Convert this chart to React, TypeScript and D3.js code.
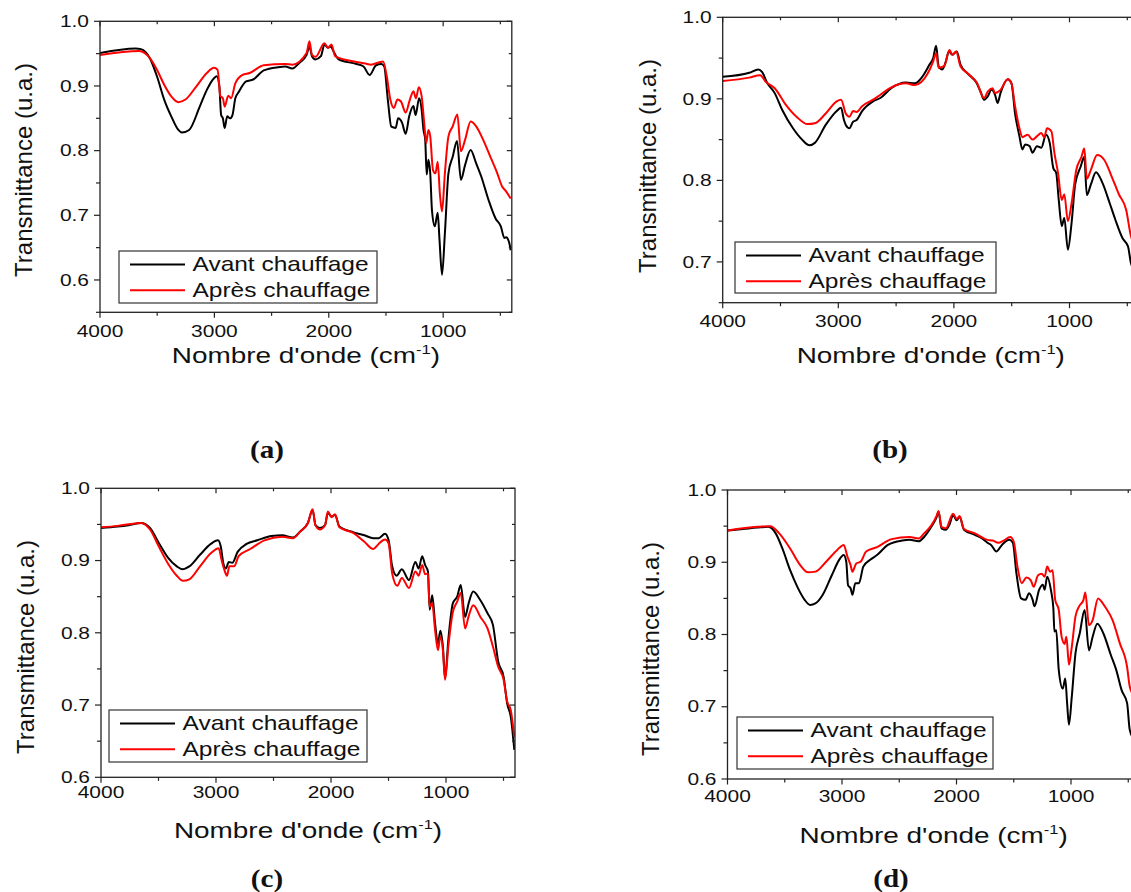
import React from "react";
import * as d3 from "d3";

type Pt = [number, number];

// ---------- DATA ----------
const wavenumberMajorTicks = [4000, 3000, 2000, 1000];
const wavenumberMinorTicks = [3500, 2500, 1500, 500];
const seriesNames = ["Avant chauffage", "Après chauffage"];
const seriesColors = ["#000000", "#ff0000"];
const panelLabels = ["(a)", "(b)", "(c)", "(d)"];
const yMajorA = [0.6, 0.7, 0.8, 0.9, 1.0];
const yMajorB = [0.7, 0.8, 0.9, 1.0];
const yMajorC = [0.6, 0.7, 0.8, 0.9, 1.0];
const yMajorD = [0.6, 0.7, 0.8, 0.9, 1.0];
const yDomainA: Pt = [0.55, 1.0];
const yDomainB: Pt = [0.65, 1.0];
const yDomainC: Pt = [0.6, 1.0];
const yDomainD: Pt = [0.6, 1.0];
const xDomain: Pt = [4000, 400];

const avantA: Pt[] = [
  [4000, 0.951], [3689, 0.958], [3642, 0.957], [3564, 0.943], [3502, 0.915], [3439, 0.879], [3377, 0.853],
  [3315, 0.832], [3284, 0.828], [3221, 0.832], [3128, 0.868], [3066, 0.894], [3003, 0.912], [2979, 0.915],
  [2957, 0.9], [2941, 0.855], [2926, 0.85], [2910, 0.835], [2888, 0.853], [2863, 0.85], [2842, 0.855],
  [2817, 0.881], [2786, 0.891], [2723, 0.907], [2661, 0.91], [2568, 0.924], [2443, 0.929], [2381, 0.93],
  [2319, 0.927], [2256, 0.936], [2194, 0.948], [2169, 0.961], [2147, 0.946], [2116, 0.941], [2069, 0.946],
  [2038, 0.964], [2007, 0.959], [1982, 0.961], [1960, 0.954], [1914, 0.941], [1758, 0.934], [1696, 0.93],
  [1643, 0.917], [1587, 0.932], [1540, 0.934], [1515, 0.93], [1484, 0.879], [1453, 0.837], [1415, 0.835],
  [1394, 0.85], [1359, 0.843], [1328, 0.826], [1297, 0.853], [1260, 0.869], [1241, 0.855], [1210, 0.881],
  [1188, 0.863], [1172, 0.832], [1157, 0.817], [1144, 0.763], [1129, 0.786], [1113, 0.765], [1098, 0.708],
  [1073, 0.683], [1048, 0.704], [1032, 0.662], [1010, 0.608], [985, 0.672], [954, 0.765], [916, 0.791],
  [879, 0.815], [845, 0.755], [808, 0.778], [760, 0.801], [713, 0.781], [667, 0.76], [604, 0.724],
  [542, 0.695], [496, 0.683], [465, 0.665], [450, 0.666], [425, 0.659], [410, 0.646],
];
const apresA: Pt[] = [
  [4000, 0.948], [3657, 0.954], [3564, 0.943], [3502, 0.925], [3439, 0.902], [3377, 0.884], [3315, 0.875],
  [3253, 0.879], [3159, 0.899], [3066, 0.92], [3003, 0.928], [2972, 0.925], [2947, 0.884], [2926, 0.881],
  [2910, 0.868], [2879, 0.885], [2854, 0.881], [2817, 0.904], [2754, 0.917], [2692, 0.92], [2568, 0.932],
  [2381, 0.934], [2319, 0.933], [2194, 0.951], [2169, 0.969], [2147, 0.948], [2116, 0.945], [2038, 0.966],
  [2007, 0.959], [1976, 0.964], [1945, 0.946], [1758, 0.937], [1665, 0.934], [1634, 0.933], [1525, 0.938],
  [1493, 0.915], [1462, 0.879], [1431, 0.866], [1400, 0.879], [1369, 0.876], [1328, 0.859], [1291, 0.879],
  [1260, 0.892], [1238, 0.881], [1213, 0.898], [1188, 0.884], [1166, 0.843], [1148, 0.812], [1129, 0.832],
  [1113, 0.822], [1089, 0.77], [1067, 0.765], [1048, 0.783], [1029, 0.734], [1010, 0.706], [985, 0.765],
  [954, 0.822], [916, 0.838], [876, 0.856], [845, 0.799], [808, 0.817], [760, 0.845], [713, 0.838],
  [651, 0.817], [589, 0.791], [527, 0.765], [486, 0.745], [450, 0.737], [410, 0.726],
];

const avantB: Pt[] = [
  [4000, 0.927], [3770, 0.932], [3691, 0.936], [3660, 0.933], [3613, 0.919], [3550, 0.907], [3487, 0.887],
  [3392, 0.864], [3313, 0.85], [3250, 0.843], [3203, 0.846], [3109, 0.868], [3014, 0.885], [2976, 0.889],
  [2951, 0.874], [2935, 0.868], [2904, 0.864], [2872, 0.872], [2841, 0.874], [2794, 0.885], [2699, 0.897],
  [2636, 0.901], [2542, 0.913], [2416, 0.92], [2337, 0.919], [2274, 0.927], [2211, 0.942], [2179, 0.95],
  [2154, 0.965], [2132, 0.94], [2101, 0.936], [2069, 0.946], [2044, 0.958], [2013, 0.954], [1975, 0.958],
  [1943, 0.942], [1880, 0.931], [1802, 0.919], [1770, 0.909], [1739, 0.899], [1707, 0.903], [1676, 0.911],
  [1644, 0.905], [1622, 0.895], [1597, 0.907], [1534, 0.924], [1502, 0.919], [1471, 0.882], [1433, 0.854],
  [1408, 0.838], [1383, 0.844], [1345, 0.842], [1320, 0.834], [1282, 0.842], [1244, 0.84], [1203, 0.856],
  [1171, 0.846], [1140, 0.815], [1115, 0.809], [1093, 0.776], [1067, 0.744], [1045, 0.754], [1014, 0.715],
  [982, 0.748], [951, 0.795], [903, 0.817], [872, 0.829], [850, 0.782], [815, 0.795], [771, 0.81],
  [715, 0.797], [652, 0.772], [604, 0.752], [541, 0.729], [494, 0.719], [469, 0.699], [440, 0.69],
];
const apresB: Pt[] = [
  [4000, 0.922], [3770, 0.926], [3676, 0.929], [3628, 0.921], [3550, 0.913], [3455, 0.893], [3361, 0.878],
  [3266, 0.869], [3203, 0.87], [3109, 0.882], [3014, 0.897], [2976, 0.899], [2935, 0.882], [2904, 0.878],
  [2872, 0.885], [2841, 0.884], [2794, 0.891], [2699, 0.899], [2636, 0.905], [2542, 0.914], [2416, 0.919],
  [2337, 0.917], [2227, 0.931], [2179, 0.946], [2154, 0.956], [2132, 0.938], [2085, 0.94], [2038, 0.96],
  [2013, 0.954], [1981, 0.958], [1943, 0.94], [1880, 0.931], [1802, 0.92], [1739, 0.901], [1707, 0.909],
  [1666, 0.913], [1644, 0.907], [1597, 0.911], [1534, 0.924], [1502, 0.919], [1471, 0.891], [1433, 0.864],
  [1408, 0.853], [1361, 0.856], [1320, 0.85], [1282, 0.854], [1244, 0.858], [1219, 0.853], [1194, 0.864],
  [1156, 0.86], [1131, 0.834], [1099, 0.809], [1067, 0.776], [1045, 0.783], [1014, 0.75], [982, 0.772],
  [941, 0.813], [896, 0.829], [872, 0.839], [850, 0.802], [815, 0.813], [761, 0.831], [699, 0.825],
  [636, 0.805], [573, 0.783], [510, 0.764], [469, 0.732], [440, 0.72],
];

const avantC: Pt[] = [
  [4000, 0.945], [3854, 0.947], [3760, 0.949], [3651, 0.952], [3574, 0.945], [3496, 0.924], [3418, 0.904],
  [3341, 0.892], [3294, 0.888], [3232, 0.892], [3139, 0.908], [3045, 0.923], [2983, 0.928], [2958, 0.919],
  [2936, 0.896], [2914, 0.889], [2889, 0.898], [2858, 0.897], [2812, 0.912], [2734, 0.923], [2641, 0.928],
  [2517, 0.934], [2424, 0.935], [2331, 0.932], [2269, 0.94], [2201, 0.952], [2160, 0.97], [2135, 0.949],
  [2098, 0.945], [2052, 0.949], [2027, 0.966], [1996, 0.961], [1965, 0.963], [1927, 0.947], [1803, 0.939],
  [1710, 0.935], [1632, 0.931], [1586, 0.931], [1530, 0.937], [1499, 0.928], [1468, 0.892], [1430, 0.879],
  [1384, 0.888], [1322, 0.873], [1266, 0.898], [1238, 0.889], [1207, 0.906], [1182, 0.894], [1157, 0.885],
  [1142, 0.832], [1120, 0.852], [1095, 0.813], [1070, 0.785], [1049, 0.803], [1027, 0.781], [1008, 0.737],
  [980, 0.79], [940, 0.841], [903, 0.85], [872, 0.866], [834, 0.822], [803, 0.841], [763, 0.857],
  [701, 0.845], [639, 0.827], [592, 0.811], [546, 0.76], [499, 0.739], [468, 0.702], [437, 0.684], [406, 0.638],
];
const apresC: Pt[] = [
  [4000, 0.946], [3854, 0.948], [3651, 0.952], [3574, 0.943], [3496, 0.919], [3418, 0.896], [3341, 0.879],
  [3288, 0.872], [3232, 0.874], [3139, 0.892], [3045, 0.91], [2977, 0.917], [2952, 0.901], [2927, 0.887],
  [2905, 0.879], [2883, 0.892], [2843, 0.892], [2803, 0.906], [2703, 0.916], [2579, 0.928], [2424, 0.933],
  [2331, 0.931], [2269, 0.94], [2201, 0.952], [2160, 0.971], [2135, 0.949], [2098, 0.943], [2052, 0.949],
  [2027, 0.968], [1996, 0.96], [1965, 0.964], [1927, 0.946], [1803, 0.938], [1710, 0.926], [1632, 0.916],
  [1586, 0.923], [1530, 0.929], [1499, 0.924], [1468, 0.882], [1424, 0.865], [1384, 0.876], [1322, 0.862],
  [1266, 0.885], [1238, 0.879], [1207, 0.894], [1182, 0.881], [1157, 0.882], [1142, 0.836], [1120, 0.841],
  [1095, 0.804], [1070, 0.776], [1049, 0.795], [1027, 0.776], [1008, 0.735], [980, 0.781], [940, 0.829],
  [903, 0.843], [872, 0.855], [834, 0.806], [803, 0.823], [763, 0.838], [701, 0.822], [639, 0.806],
  [592, 0.781], [546, 0.753], [499, 0.735], [468, 0.705], [437, 0.693], [406, 0.656],
];

const avantD: Pt[] = [
  [4000, 0.944], [3864, 0.946], [3738, 0.948], [3643, 0.949], [3579, 0.94], [3516, 0.917], [3453, 0.889],
  [3390, 0.866], [3326, 0.848], [3279, 0.841], [3232, 0.843], [3168, 0.855], [3089, 0.882], [3026, 0.903],
  [2985, 0.91], [2963, 0.901], [2947, 0.868], [2925, 0.864], [2909, 0.855], [2884, 0.871], [2852, 0.871],
  [2814, 0.894], [2757, 0.903], [2694, 0.91], [2599, 0.924], [2473, 0.93], [2410, 0.931], [2330, 0.929],
  [2283, 0.935], [2220, 0.949], [2172, 0.963], [2157, 0.97], [2131, 0.947], [2093, 0.945], [2062, 0.952],
  [2030, 0.965], [1998, 0.958], [1973, 0.963], [1935, 0.945], [1840, 0.938], [1777, 0.933], [1730, 0.927],
  [1698, 0.924], [1651, 0.915], [1603, 0.924], [1540, 0.931], [1508, 0.927], [1477, 0.885], [1436, 0.85],
  [1398, 0.848], [1366, 0.857], [1335, 0.848], [1319, 0.839], [1278, 0.862], [1246, 0.869], [1230, 0.862],
  [1208, 0.88], [1176, 0.862], [1154, 0.836], [1145, 0.804], [1129, 0.806], [1107, 0.751], [1072, 0.725],
  [1050, 0.739], [1034, 0.705], [1018, 0.675], [993, 0.714], [961, 0.774], [923, 0.802], [881, 0.834],
  [843, 0.778], [811, 0.797], [770, 0.815], [716, 0.801], [653, 0.772], [605, 0.751], [558, 0.723],
  [510, 0.705], [487, 0.668], [450, 0.655],
];
const apresD: Pt[] = [
  [4000, 0.944], [3738, 0.949], [3627, 0.95], [3548, 0.94], [3453, 0.919], [3374, 0.898], [3295, 0.886],
  [3232, 0.887], [3137, 0.901], [3042, 0.917], [2985, 0.924], [2953, 0.908], [2925, 0.896], [2909, 0.887],
  [2877, 0.898], [2836, 0.901], [2789, 0.915], [2694, 0.921], [2567, 0.932], [2410, 0.935], [2330, 0.933],
  [2283, 0.94], [2220, 0.951], [2172, 0.965], [2157, 0.971], [2131, 0.949], [2093, 0.947], [2030, 0.967],
  [1998, 0.96], [1973, 0.964], [1935, 0.946], [1840, 0.94], [1730, 0.931], [1683, 0.93], [1635, 0.927],
  [1588, 0.93], [1531, 0.935], [1499, 0.928], [1467, 0.893], [1430, 0.871], [1389, 0.879], [1351, 0.875],
  [1326, 0.866], [1288, 0.882], [1256, 0.884], [1230, 0.88], [1208, 0.894], [1183, 0.887], [1161, 0.889],
  [1138, 0.848], [1107, 0.834], [1082, 0.797], [1056, 0.787], [1040, 0.797], [1018, 0.758], [993, 0.783],
  [961, 0.825], [929, 0.839], [891, 0.848], [875, 0.858], [843, 0.813], [811, 0.82], [764, 0.85],
  [701, 0.838], [637, 0.82], [574, 0.788], [510, 0.755], [487, 0.728], [450, 0.715],
];

// ---------- LAYOUT ----------
interface Layout {
  left: number; top: number; bottom: number; pxPer1000: number;
  tickBase: number; titleBase: number; yTitleX: number; yTitleY: number;
  legend: { x: number; y: number; w: number; h: number };
  label: { x: number; y: number };
}
const layouts: Layout[] = [
  { left: 100, top: 21.3, bottom: 312.3, pxPer1000: 114.39, tickBase: 337, titleBase: 363, yTitleX: 32, yTitleY: 170,
    legend: { x: 119, y: 251, w: 258, h: 52 }, label: { x: 267, y: 458 } },
  { left: 722.7, top: 17.3, bottom: 302.7, pxPer1000: 115.6, tickBase: 327, titleBase: 363, yTitleX: 656, yTitleY: 166,
    legend: { x: 735, y: 242, w: 261, h: 51 }, label: { x: 890, y: 458 } },
  { left: 101, top: 488.3, bottom: 777.3, pxPer1000: 115, tickBase: 798, titleBase: 838, yTitleX: 34, yTitleY: 647,
    legend: { x: 109, y: 710, w: 258, h: 52 }, label: { x: 267, y: 887 } },
  { left: 727.5, top: 490, bottom: 779, pxPer1000: 114.5, tickBase: 802, titleBase: 843, yTitleX: 659, yTitleY: 649,
    legend: { x: 737, y: 717, w: 256, h: 52 }, label: { x: 891, y: 887 } },
];

const panelData = [
  { avant: avantA, apres: apresA, yDomain: yDomainA, yMajor: yMajorA },
  { avant: avantB, apres: apresB, yDomain: yDomainB, yMajor: yMajorB },
  { avant: avantC, apres: apresC, yDomain: yDomainC, yMajor: yMajorC },
  { avant: avantD, apres: apresD, yDomain: yDomainD, yMajor: yMajorD },
];

const SANS = "'Liberation Sans', Arial, Helvetica, sans-serif";
const SERIF = "'Liberation Serif', 'Times New Roman', serif";
const SX = 1.27; // horizontal stretch of the reference text

function Panel({ idx }: { idx: number }) {
  const L = layouts[idx];
  const D = panelData[idx];
  const right = L.left + ((xDomain[0] - xDomain[1]) / 1000) * L.pxPer1000;
  const x = d3.scaleLinear().domain(xDomain).range([L.left, right]);
  const y = d3.scaleLinear().domain(D.yDomain).range([L.bottom, L.top]);
  const line = d3
    .line<Pt>()
    .x((d) => x(d[0]))
    .y((d) => y(d[1]))
    .curve(d3.curveMonotoneX);

  const yMinor: number[] = [];
  for (let v = D.yDomain[0]; v <= D.yDomain[1] + 1e-9; v += 0.05) {
    const r = Math.round(v * 100) / 100;
    if (!D.yMajor.some((m) => Math.abs(m - r) < 1e-6)) yMinor.push(r);
  }
  const axisColor = "#222";
  const clipId = `clip-${idx}`;
  const midX = (L.left + right) / 2;
  const lg = L.legend;

  return (
    <g>
      <defs>
        <clipPath id={clipId}>
          <rect x={L.left} y={L.top - 2} width={right - L.left} height={L.bottom - L.top + 4} />
        </clipPath>
      </defs>
      {/* series */}
      <g clipPath={`url(#${clipId})`}>
        <path d={line(D.avant) || ""} fill="none" stroke={seriesColors[0]} strokeWidth={2} strokeLinejoin="round" />
        <path d={line(D.apres) || ""} fill="none" stroke={seriesColors[1]} strokeWidth={2} strokeLinejoin="round" />
      </g>
      {/* frame */}
      <rect x={L.left} y={L.top} width={right - L.left} height={L.bottom - L.top} fill="none" stroke={axisColor} strokeWidth={1.3} />
      {/* y ticks */}
      {D.yMajor.map((v) => (
        <g key={`ym${v}`}>
          <line x1={L.left - 6} x2={L.left} y1={y(v)} y2={y(v)} stroke={axisColor} strokeWidth={1.2} />
          <line x1={right - 5} x2={right} y1={y(v)} y2={y(v)} stroke={axisColor} strokeWidth={1.2} />
          <text
            transform={`translate(${L.left - 11},${y(v) + 5.7}) scale(${SX},1)`}
            textAnchor="end"
            fontFamily={SANS}
            fontSize={16.5}
            fill="#111"
          >
            {d3.format(".1f")(v)}
          </text>
        </g>
      ))}
      {yMinor.map((v) => (
        <g key={`yn${v}`}>
          <line x1={L.left - 4} x2={L.left} y1={y(v)} y2={y(v)} stroke={axisColor} strokeWidth={1.2} />
          <line x1={right - 3} x2={right} y1={y(v)} y2={y(v)} stroke={axisColor} strokeWidth={1.2} />
        </g>
      ))}
      {/* x ticks */}
      {wavenumberMajorTicks.map((v) => (
        <g key={`xm${v}`}>
          <line x1={x(v)} x2={x(v)} y1={L.bottom} y2={L.bottom + 5.5} stroke={axisColor} strokeWidth={1.2} />
          <line x1={x(v)} x2={x(v)} y1={L.top} y2={L.top + 5} stroke={axisColor} strokeWidth={1.2} />
          <text
            transform={`translate(${x(v)},${L.tickBase}) scale(${SX},1)`}
            textAnchor="middle"
            fontFamily={SANS}
            fontSize={16.5}
            fill="#111"
          >
            {v}
          </text>
        </g>
      ))}
      {wavenumberMinorTicks.map((v) => (
        <g key={`xn${v}`}>
          <line x1={x(v)} x2={x(v)} y1={L.bottom} y2={L.bottom + 3.5} stroke={axisColor} strokeWidth={1.2} />
          <line x1={x(v)} x2={x(v)} y1={L.top} y2={L.top + 3} stroke={axisColor} strokeWidth={1.2} />
        </g>
      ))}
      {/* axis titles */}
      <text
        transform={`translate(${midX},${L.titleBase}) scale(${SX},1)`}
        textAnchor="middle"
        fontFamily={SANS}
        fontSize={22}
        fill="#111"
      >
        Nombre d'onde (cm
        <tspan fontSize={13} dy={-9}>-1</tspan>
        <tspan dy={9}>)</tspan>
      </text>
      <text
        transform={`translate(${L.yTitleX},${L.yTitleY}) rotate(-90)`}
        textAnchor="middle"
        fontFamily={SANS}
        fontSize={24}
        fill="#111"
      >
        Transmittance (u.a.)
      </text>
      {/* legend */}
      <rect x={lg.x} y={lg.y} width={lg.w} height={lg.h} fill="#fff" stroke="#333" strokeWidth={1.2} />
      {seriesNames.map((name, i) => {
        const ly = lg.y + 13.5 + i * 25.7;
        return (
          <g key={name}>
            <line x1={lg.x + 11} x2={lg.x + 66} y1={ly} y2={ly} stroke={seriesColors[i]} strokeWidth={2} />
            <text
              transform={`translate(${lg.x + 73.5},${ly + 6.8}) scale(1.195,1)`}
              fontFamily={SANS}
              fontSize={20.5}
              fill="#111"
            >
              {name}
            </text>
          </g>
        );
      })}
      {/* panel label */}
      <text
        transform={`translate(${L.label.x},${L.label.y}) scale(1.12,1)`}
        textAnchor="middle"
        fontFamily={SERIF}
        fontWeight="bold"
        fontSize={26}
        fill="#111"
      >
        {panelLabels[idx]}
      </text>
    </g>
  );
}

export default function App() {
  return (
    <svg
      width={1131}
      height={892}
      viewBox="0 0 1131 892"
      style={{ position: "absolute", left: 0, top: 0, display: "block", background: "#fff" }}
    >
      <rect x={0} y={0} width={1131} height={892} fill="#fff" />
      {layouts.map((_, i) => (
        <Panel key={i} idx={i} />
      ))}
    </svg>
  );
}
